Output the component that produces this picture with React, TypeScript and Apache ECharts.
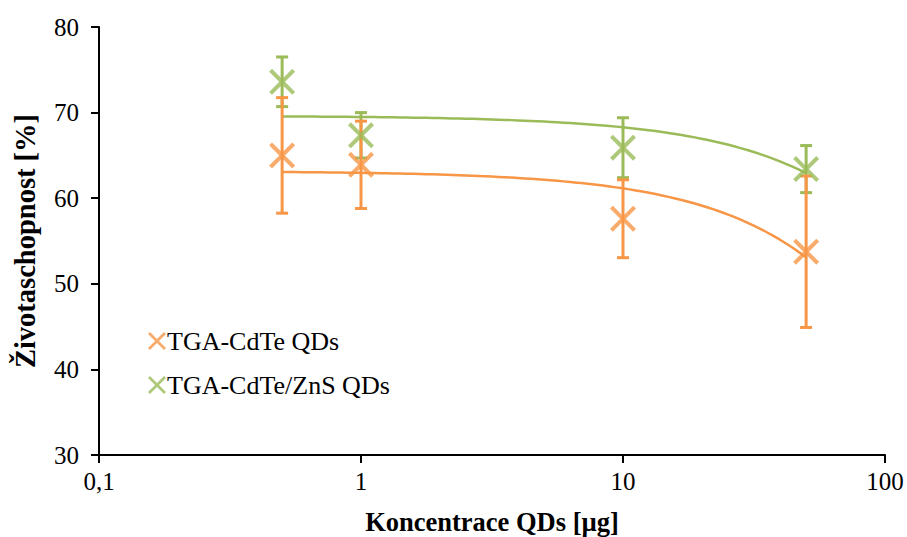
import React, { useEffect, useRef } from 'react';
import * as echarts from 'echarts';

const concentrations = [0.5, 1, 10, 50];
const cdteMean = [65.0, 63.9, 57.6, 53.75];
const cdteErr = [6.75, 5.1, 4.55, 8.85];
const znsMean = [73.6, 67.35, 65.9, 63.4];
const znsErr = [2.9, 2.65, 3.5, 2.75];
const seriesNames = ['TGA-CdTe QDs', 'TGA-CdTe/ZnS QDs'];
const colors = ['#F79646', '#9BBB59'];

const X_PATH =
  'path://M0,11 L11,0 L50,39 L89,0 L100,11 L61,50 L100,89 L89,100 L50,61 L11,100 L0,89 L39,50 Z';
const FONT = 'Liberation Serif';

// least-squares linear trend (Excel-style linear trendline) computed from the data
function linearFit(xs: number[], ys: number[]) {
  const n = xs.length;
  const mx = xs.reduce((s, v) => s + v, 0) / n;
  const my = ys.reduce((s, v) => s + v, 0) / n;
  let sxy = 0;
  let sxx = 0;
  for (let i = 0; i < n; i++) {
    sxy += (xs[i] - mx) * (ys[i] - my);
    sxx += (xs[i] - mx) * (xs[i] - mx);
  }
  const b = sxy / sxx;
  return { a: my - b * mx, b };
}

function trendPoints(xs: number[], ys: number[]) {
  const { a, b } = linearFit(xs, ys);
  const lo = Math.log10(Math.min(...xs));
  const hi = Math.log10(Math.max(...xs));
  const pts: number[][] = [];
  const steps = 80;
  for (let i = 0; i <= steps; i++) {
    const x = Math.pow(10, lo + ((hi - lo) * i) / steps);
    pts.push([x, a + b * x]);
  }
  return pts;
}

function errorSeries(name: string, means: number[], errs: number[], color: string) {
  return {
    type: 'custom',
    name,
    z: 3,
    silent: true,
    data: concentrations.map((x, i) => [x, means[i] - errs[i], means[i] + errs[i]]),
    renderItem: (params: any, api: any) => {
      const x = api.value(0);
      const lo = api.coord([x, api.value(1)]);
      const hi = api.coord([x, api.value(2)]);
      const hw = 6;
      const style = { stroke: color, lineWidth: 3 };
      return {
        type: 'group',
        children: [
          { type: 'line', shape: { x1: lo[0], y1: lo[1], x2: hi[0], y2: hi[1] }, style },
          { type: 'line', shape: { x1: lo[0] - hw, y1: lo[1], x2: lo[0] + hw, y2: lo[1] }, style },
          { type: 'line', shape: { x1: hi[0] - hw, y1: hi[1], x2: hi[0] + hw, y2: hi[1] }, style },
        ],
      };
    },
  };
}

export default function App() {
  const ref = useRef<HTMLDivElement>(null);
  useEffect(() => {
    if (!ref.current) return;
    const chart = echarts.init(ref.current, undefined, { renderer: 'svg' });
    const option: any = {
      animation: false,
      backgroundColor: '#ffffff',
      grid: { left: 99, top: 27, right: 22, bottom: 82, containLabel: false, outerBoundsMode: 'none' },
      legend: {
        orient: 'vertical',
        left: 143,
        top: 323,
        itemGap: 18,
        itemWidth: 18,
        itemHeight: 18,
        itemStyle: { borderWidth: 0 },
        textStyle: { fontFamily: FONT, fontSize: 26, color: '#000', padding: [0, 0, 0, -4], lineHeight: 26 },
        data: seriesNames.map((n) => ({ name: n, icon: X_PATH })),
      },
      xAxis: {
        type: 'log',
        logBase: 10,
        min: 0.1,
        max: 100,
        name: 'Koncentrace QDs [µg]',
        nameLocation: 'middle',
        nameGap: 53,
        nameTextStyle: { fontFamily: FONT, fontSize: 26.5, fontWeight: 'bold', color: '#000' },
        axisLine: { show: true, lineStyle: { color: '#000', width: 2 } },
        axisTick: { show: true, inside: false, length: 8, lineStyle: { color: '#000', width: 2 } },
        axisLabel: {
          fontFamily: FONT,
          fontSize: 25,
          color: '#000',
          margin: 14,
          formatter: (v: number) => String(v).replace('.', ','),
        },
        splitLine: { show: false },
        minorTick: { show: false },
      },
      yAxis: {
        type: 'value',
        min: 30,
        max: 80,
        interval: 10,
        name: 'Životaschopnost [%]',
        nameLocation: 'middle',
        nameGap: 59,
        nameTextStyle: { fontFamily: FONT, fontSize: 28.5, fontWeight: 'bold', color: '#000' },
        axisLine: { show: true, lineStyle: { color: '#000', width: 2 } },
        axisTick: { show: true, inside: false, length: 8, lineStyle: { color: '#000', width: 2 } },
        axisLabel: { fontFamily: FONT, fontSize: 25, color: '#000', margin: 20 },
        splitLine: { show: false },
      },
      series: [
        {
          type: 'line',
          name: 'trend-cdte',
          data: trendPoints(concentrations, cdteMean),
          showSymbol: false,
          symbol: 'none',
          silent: true,
          z: 2,
          lineStyle: { color: colors[0], width: 2.5 },
        },
        {
          type: 'line',
          name: 'trend-zns',
          data: trendPoints(concentrations, znsMean),
          showSymbol: false,
          symbol: 'none',
          silent: true,
          z: 2,
          lineStyle: { color: colors[1], width: 2.5 },
        },
        errorSeries('err-zns', znsMean, znsErr, colors[1]),
        errorSeries('err-cdte', cdteMean, cdteErr, colors[0]),
        {
          type: 'scatter',
          name: seriesNames[1],
          data: concentrations.map((x, i) => [x, znsMean[i]]),
          symbol: X_PATH,
          symbolSize: 26,
          z: 4,
          itemStyle: { color: colors[1] },
        },
        {
          type: 'scatter',
          name: seriesNames[0],
          data: concentrations.map((x, i) => [x, cdteMean[i]]),
          symbol: X_PATH,
          symbolSize: 26,
          z: 4,
          itemStyle: { color: colors[0] },
        },
      ],
    };
    chart.setOption(option);
    return () => chart.dispose();
  }, []);
  return (
    <div
      ref={ref}
      style={{ position: 'fixed', left: 0, top: 0, width: 907, height: 537, background: '#fff' }}
    />
  );
}
